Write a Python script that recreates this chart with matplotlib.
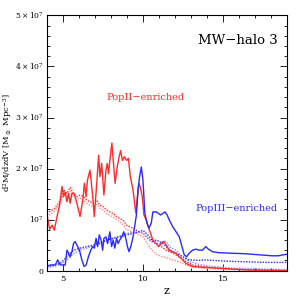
import matplotlib
matplotlib.use("Agg")
import matplotlib.pyplot as plt
from matplotlib.ticker import MultipleLocator, FixedLocator

plt.rcParams['font.family'] = ['DejaVu Serif']
plt.rcParams['mathtext.fontset'] = 'dejavuserif'

# values in units of 1e7 Msun Mpc^-3
z_pop2 = [4.0, 4.17, 4.32, 4.46, 4.63, 4.79, 4.94, 5.04, 5.14, 5.25, 5.35, 5.45, 5.56, 5.70, 5.87,
          6.07, 6.24, 6.34, 6.45, 6.53, 6.69, 6.86, 6.96, 7.11, 7.23, 7.31, 7.42, 7.56, 7.69, 7.77,
          7.85, 7.93, 8.06, 8.14, 8.26, 8.39, 8.51, 8.60, 8.72, 8.84, 8.97, 9.09, 9.21, 9.38, 9.55,
          9.63, 9.75, 9.83, 9.96, 10.06, 10.21, 10.41, 10.62, 10.83, 10.99, 11.14, 11.30, 11.45,
          11.65, 11.86, 12.07, 12.27, 12.48, 12.69, 12.89, 13.10, 13.51, 14.55, 15.58, 16.61, 19.0]
pop2_solid = [1.09, 0.81, 0.89, 0.79, 1.06, 1.28, 1.65, 1.45, 1.54, 1.35, 1.51, 1.32, 1.51, 1.51, 1.32,
              1.06, 1.38, 1.71, 1.45, 1.77, 1.97, 1.45, 1.06, 1.71, 2.26, 1.84, 2.10, 1.48, 1.97, 2.10,
              1.90, 2.16, 2.50, 2.16, 1.71, 2.03, 2.23, 2.35, 2.16, 2.23, 2.16, 2.20, 1.84, 1.58, 1.13,
              1.38, 1.71, 1.64, 1.45, 1.09, 0.99, 0.79, 0.60, 0.53, 0.47, 0.53, 0.57, 0.50,
              0.40, 0.37, 0.34, 0.27, 0.21, 0.14, 0.11, 0.08, 0.07, 0.05, 0.03, 0.01, 0.0]

z_dot = [4.0, 4.21, 4.42, 4.63, 4.83, 5.04, 5.25, 5.45, 5.66, 5.87, 6.07, 6.28, 6.49, 6.69, 6.90,
         7.11, 7.31, 7.52, 7.73, 7.93, 8.14, 8.35, 8.55, 8.76, 8.97, 9.17, 9.38, 9.59, 9.79, 10.0,
         10.21, 10.41, 10.62, 10.83, 11.03, 11.45, 11.86, 12.27, 12.69, 13.10, 13.93, 15.58, 19.0]
pop2_dot_a = [1.12, 1.17, 1.20, 1.28, 1.38, 1.58, 1.51, 1.63, 1.51, 1.45, 1.48, 1.45, 1.38, 1.35, 1.32,
              1.38, 1.28, 1.25, 1.19, 1.15, 1.12, 1.06, 1.02, 0.99, 0.89, 0.86, 0.83, 0.79, 0.76, 0.73,
              0.66, 0.60, 0.57, 0.53, 0.50, 0.40, 0.34, 0.27, 0.18, 0.11, 0.07, 0.03, 0.01]
pop2_dot_b = [1.05, 1.10, 1.15, 1.22, 1.32, 1.50, 1.45, 1.55, 1.45, 1.40, 1.42, 1.38, 1.32, 1.28, 1.25,
              1.30, 1.22, 1.18, 1.12, 1.08, 1.05, 1.00, 0.95, 0.90, 0.80, 0.78, 0.75, 0.73, 0.70, 0.66,
              0.56, 0.47, 0.38, 0.32, 0.29, 0.25, 0.21, 0.17, 0.11, 0.07, 0.04, 0.02, 0.0]

z_pop3 = [4.0, 4.21, 4.52, 4.67, 4.83, 5.14, 5.25, 5.35, 5.45, 5.56, 5.66, 5.76, 5.87, 6.03, 6.18,
          6.32, 6.45, 6.59, 6.74, 6.86, 6.96, 7.07, 7.17, 7.27, 7.38, 7.48, 7.56, 7.69, 7.79, 7.93,
          8.04, 8.14, 8.24, 8.35, 8.45, 8.55, 8.68, 8.80, 8.93, 9.03, 9.13, 9.24, 9.38, 9.48, 9.59,
          9.69, 9.79, 9.90, 10.0, 10.12, 10.25, 10.37, 10.52, 10.62, 10.83, 10.93, 11.10, 11.24, 11.38,
          11.51, 11.65, 11.86, 12.07, 12.27, 12.44, 12.58, 12.73, 12.89, 13.10, 13.31, 13.51, 13.72,
          13.93, 14.09, 14.34, 14.75, 15.58, 16.40, 17.23, 18.06, 18.47, 18.78, 19.0]
pop3_solid = [0.08, 0.11, 0.11, 0.21, 0.11, 0.11, 0.40, 0.34, 0.27, 0.37, 0.53, 0.57, 0.50, 0.40, 0.21,
              0.08, 0.11, 0.27, 0.40, 0.47, 0.44, 0.63, 0.47, 0.70, 0.60, 0.40, 0.63, 0.66, 0.53, 0.76,
              0.47, 0.60, 0.44, 0.63, 0.53, 0.60, 0.66, 0.76, 0.63, 0.47, 0.37, 0.47, 0.66, 0.86, 1.09,
              1.58, 1.84, 2.03, 1.77, 1.12, 0.93, 0.83, 0.93, 1.15, 1.15, 1.13, 1.09, 1.12, 1.15,
              1.09, 0.99, 0.86, 0.76, 0.66, 0.47, 0.31, 0.27, 0.34, 0.40, 0.42, 0.40, 0.40,
              0.47, 0.42, 0.37, 0.35, 0.34, 0.33, 0.31, 0.29, 0.29, 0.31, 0.32]

z_pop3_dot = [4.0, 4.42, 4.83, 5.25, 5.66, 6.07, 6.49, 6.90, 7.31, 7.73, 8.14, 8.55, 8.97, 9.38, 9.79,
              10.0, 10.21, 10.41, 10.62, 10.83, 11.03, 11.24, 11.45, 11.65, 12.07, 12.48, 12.89, 13.51,
              13.93, 14.34, 15.58, 17.64, 19.0]
pop3_dot_a = [0.08, 0.11, 0.14, 0.27, 0.40, 0.44, 0.47, 0.50, 0.53, 0.60, 0.63, 0.66, 0.70, 0.73, 0.76,
              0.79, 0.73, 0.66, 0.57, 0.60, 0.57, 0.53, 0.47, 0.40, 0.34, 0.27, 0.21, 0.20,
              0.21, 0.20, 0.18, 0.16, 0.16]
pop3_dot_b = [0.05, 0.08, 0.12, 0.21, 0.33, 0.40, 0.44, 0.48, 0.55, 0.60, 0.64, 0.68, 0.73, 0.75, 0.76,
              0.73, 0.67, 0.60, 0.55, 0.53, 0.53, 0.57, 0.57, 0.47, 0.40, 0.27, 0.18, 0.12,
              0.10, 0.08, 0.05, 0.03, 0.02]

y_ticks = [0, 1, 2, 3, 4, 5]
y_labels = ['0', r'$10^7$', r'$2\times10^7$', r'$3\times10^7$', r'$4\times10^7$', r'$5\times10^7$']

red = '#ff2a2a'
pink = '#ff8c8c'
blue = '#2a2aff'
lblue = '#8c8cff'
dots = (0, (1, 1))

fig = plt.figure(figsize=(3.03, 3.03), dpi=100)
ax = fig.add_axes([0.155, 0.107, 0.792, 0.842])

ax.plot(z_dot, pop2_dot_b, color=pink, lw=1.0, ls=dots)
ax.plot(z_dot, pop2_dot_a, color=red, lw=1.0, ls=dots)
ax.plot(z_pop3_dot, pop3_dot_b, color=lblue, lw=1.0, ls=dots)
ax.plot(z_pop3_dot, pop3_dot_a, color=blue, lw=1.0, ls=dots)
ax.plot(z_pop2, pop2_solid, color=red, lw=1.0)
ax.plot(z_pop3, pop3_solid, color=blue, lw=1.0)

ax.set_xlim(4, 19)
ax.set_ylim(0, 5)
ax.xaxis.set_major_locator(FixedLocator([5, 10, 15]))
ax.xaxis.set_minor_locator(MultipleLocator(1))
ax.set_yticks(y_ticks)
ax.set_yticklabels(y_labels)
ax.yaxis.set_minor_locator(MultipleLocator(0.2))
ax.tick_params(which='both', direction='in', top=True, right=True, labelsize=6, width=0.6)
ax.tick_params(axis='y', labelsize=5.5, pad=2.5)
ax.tick_params(which='major', length=5)
ax.tick_params(which='minor', length=2.5)
for s in ax.spines.values():
    s.set_linewidth(0.8)

ax.set_xlabel('z', fontsize=8, labelpad=2)
ax.set_ylabel(r'$\mathrm{d^2M/dzdV\ [M_\odot\ Mpc^{-3}]}$', fontsize=6)
ax.yaxis.set_label_coords(-0.135, 0.5)

ax.text(0.96, 0.90, 'MW\u2212halo 3', transform=ax.transAxes, ha='right', va='center', fontsize=9.5)
ax.text(0.41, 0.68, 'PopII\u2212enriched', transform=ax.transAxes, ha='center', va='center',
        fontsize=7, color=red)
ax.text(0.79, 0.245, 'PopIII\u2212enriched', transform=ax.transAxes, ha='center', va='center',
        fontsize=7, color=blue)

fig.savefig('out.png', dpi=100)
